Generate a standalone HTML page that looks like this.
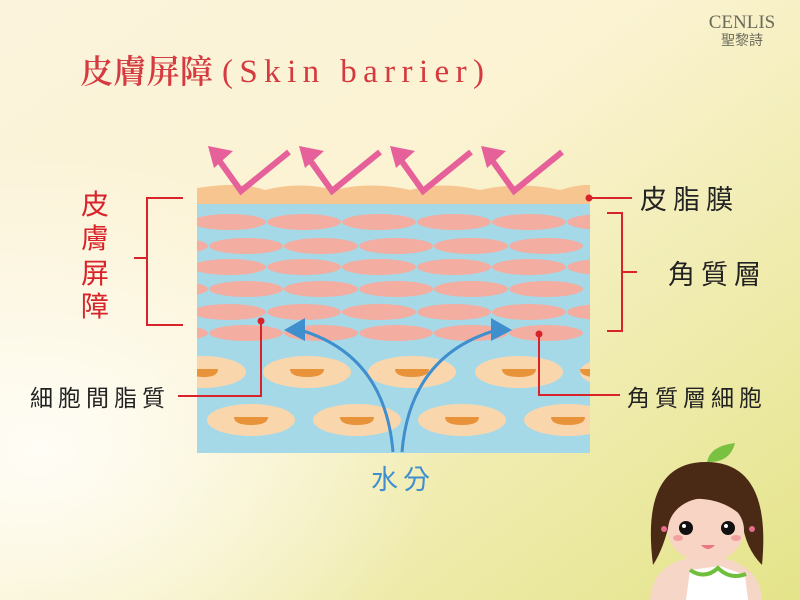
<!DOCTYPE html>
<html><head><meta charset="utf-8"><style>
body{margin:0;width:800px;height:600px;overflow:hidden;}
svg{display:block}
text{font-family:"Liberation Sans","Noto Sans CJK TC",sans-serif;}
</style></head><body>
<svg width="800" height="600" viewBox="0 0 800 600">
<defs>
<linearGradient id="bg" x1="0" y1="0" x2="1" y2="1">
<stop offset="0" stop-color="#fbf3dc"/><stop offset="0.4" stop-color="#fbf3d2"/><stop offset="1" stop-color="#e4e48a"/>
</linearGradient>
<radialGradient id="bg2" cx="0.05" cy="0.75" r="0.5"><stop offset="0" stop-color="#fffdf6"/><stop offset="1" stop-color="#fffdf6" stop-opacity="0"/></radialGradient>
<clipPath id="c"><rect x="197" y="185" width="393" height="268"/></clipPath>
</defs>
<rect width="800" height="600" fill="url(#bg)"/>
<rect width="800" height="600" fill="url(#bg2)"/>
<text x="80" y="83" font-size="33" fill="#d43a3f" style="font-family:'Noto Serif CJK SC',serif" font-weight="600" textLength="133" lengthAdjust="spacingAndGlyphs">皮膚屏障</text>
<text x="222" y="82" font-size="33" fill="#d43a3f" style="font-family:'Liberation Serif',serif" textLength="262" lengthAdjust="spacing">(Skin barrier)</text>
<text x="742" y="28" font-size="19" fill="#6a6a5a" text-anchor="middle" style="font-family:'Liberation Serif',serif">CENLIS</text>
<text x="742" y="45" font-size="14" fill="#6a6a5a" text-anchor="middle">聖黎詩</text>
<g clip-path="url(#c)">
<rect x="197" y="200" width="393" height="253" fill="#a6d9e8"/>
<path d="M197 188 Q240 181 265 190 Q300 181 335 190 Q370 181 410 190 Q440 181 480 190 Q520 181 560 190 Q580 184 590 185 L590 204 L197 204Z" fill="#f6c590"/>
<g fill="#f3ada1">
<g id="r1"><ellipse cx="229" cy="222" rx="37" ry="8"/><ellipse cx="304" cy="222" rx="37" ry="8"/><ellipse cx="379" cy="222" rx="37" ry="8"/><ellipse cx="454" cy="222" rx="37" ry="8"/><ellipse cx="529" cy="222" rx="37" ry="8"/><ellipse cx="604" cy="222" rx="37" ry="8"/><ellipse cx="154" cy="222" rx="37" ry="8"/></g>
<g id="r2"><ellipse cx="246" cy="246" rx="37" ry="8"/><ellipse cx="321" cy="246" rx="37" ry="8"/><ellipse cx="396" cy="246" rx="37" ry="8"/><ellipse cx="471" cy="246" rx="37" ry="8"/><ellipse cx="546" cy="246" rx="37" ry="8"/><ellipse cx="171" cy="246" rx="37" ry="8"/></g>
<use href="#r1" y="45"/><use href="#r2" y="43"/><use href="#r1" y="90"/><use href="#r2" y="87"/>
</g>
<g fill="#fad6ad">
<ellipse cx="202" cy="372" rx="44" ry="16"/><ellipse cx="307" cy="372" rx="44" ry="16"/><ellipse cx="412" cy="372" rx="44" ry="16"/><ellipse cx="519" cy="372" rx="44" ry="16"/><ellipse cx="624" cy="372" rx="44" ry="16"/>
<ellipse cx="251" cy="420" rx="44" ry="16"/><ellipse cx="357" cy="420" rx="44" ry="16"/><ellipse cx="462" cy="420" rx="44" ry="16"/><ellipse cx="568" cy="420" rx="44" ry="16"/>
</g>
<g fill="#e8923a">
<path d="M190 369 h28 q0 8 -14 8 q-14 0 -14 -8z"/><path d="M290 369 h34 q0 8 -17 8 q-17 0 -17 -8z"/><path d="M395 369 h34 q0 8 -17 8 q-17 0 -17 -8z"/><path d="M502 369 h34 q0 8 -17 8 q-17 0 -17 -8z"/><path d="M580 369 h34 q0 8 -17 8 q-17 0 -17 -8z"/>
<path d="M234 417 h34 q0 8 -17 8 q-17 0 -17 -8z"/><path d="M340 417 h34 q0 8 -17 8 q-17 0 -17 -8z"/><path d="M445 417 h34 q0 8 -17 8 q-17 0 -17 -8z"/><path d="M551 417 h34 q0 8 -17 8 q-17 0 -17 -8z"/>
</g>
</g>
<g fill="none" stroke="#3f8fcf" stroke-width="3">
<path d="M393 452 Q385 355 300 330"/><path d="M402 452 Q410 355 497 330"/>
</g>
<path d="M284 330 L305 318 L305 341Z" fill="#3f8fcf"/>
<path d="M512 330 L491 318 L491 341Z" fill="#3f8fcf"/>
<g id="z" fill="none" stroke="#e6609a" stroke-width="6">
<path d="M216 156 L241 191 L289 152"/>
</g>
<path d="M208 146 L233 151 L214 168Z" fill="#e6609a" id="zh"/>
<use href="#z" x="91"/><use href="#z" x="182"/><use href="#z" x="273"/>
<use href="#zh" x="91"/><use href="#zh" x="182"/><use href="#zh" x="273"/>
<g stroke="#d8232a" stroke-width="2" fill="none">
<path d="M183 198 H147 V325 H183"/><path d="M134 258 H147"/>
<path d="M589 198 H632"/>
<path d="M607 213 H622 V331 H607"/><path d="M622 272 H637"/>
<path d="M261 321 V396 H178"/>
<path d="M539 334 V395 H620"/>
</g>
<g fill="#d8232a"><circle cx="589" cy="198" r="3.5"/><circle cx="261" cy="321" r="3.5"/><circle cx="539" cy="334" r="3.5"/></g>
<g font-size="28" fill="#d8232a" text-anchor="middle">
<text x="95" y="214">皮</text><text x="95" y="248">膚</text><text x="95" y="283">屏</text><text x="95" y="316">障</text>
</g>
<g font-size="27" fill="#222" letter-spacing="6">
<text x="640" y="209">皮脂膜</text><text x="668" y="284">角質層</text>
<text x="30" y="406" font-size="23" letter-spacing="5">細胞間脂質</text><text x="627" y="406" font-size="23" letter-spacing="5">角質層細胞</text>
</g>
<text x="371" y="489" font-size="27" fill="#3f8fcf" letter-spacing="5">水分</text>
<g>
<path d="M650 600 Q652 560 705 555 Q760 560 762 600Z" fill="#f6d6c7"/>
<path d="M690 570 L720 566 L745 575 L748 600 L686 600Z" fill="#fff"/>
<path d="M690 570 Q705 580 718 568 Q730 580 746 574" fill="none" stroke="#6fbf3c" stroke-width="4"/>
<path d="M653 565 Q640 462 706 462 Q772 462 762 565 Q745 548 742 520 L670 520 Q664 548 653 565Z" fill="#4a2a14"/>
<ellipse cx="706" cy="530" rx="38" ry="32" fill="#f8d4c4"/>
<path d="M668 520 Q664 480 706 482 Q746 480 744 518 Q720 494 680 500Z" fill="#4a2a14"/>
<circle cx="686" cy="528" r="7" fill="#111"/><circle cx="728" cy="528" r="7" fill="#111"/>
<circle cx="684" cy="526" r="2" fill="#fff"/><circle cx="726" cy="526" r="2" fill="#fff"/>
<ellipse cx="678" cy="538" rx="5" ry="3" fill="#f3a0a0"/><ellipse cx="736" cy="538" rx="5" ry="3" fill="#f3a0a0"/>
<path d="M701 545 Q708 553 715 545Z" fill="#e7787f"/>
<circle cx="664" cy="529" r="3" fill="#e86d8d"/><circle cx="752" cy="529" r="3" fill="#e86d8d"/>
<path d="M707 462 Q710 446 735 443 Q730 463 707 462Z" fill="#7ac142"/>
</g>
</svg>
</body></html>
